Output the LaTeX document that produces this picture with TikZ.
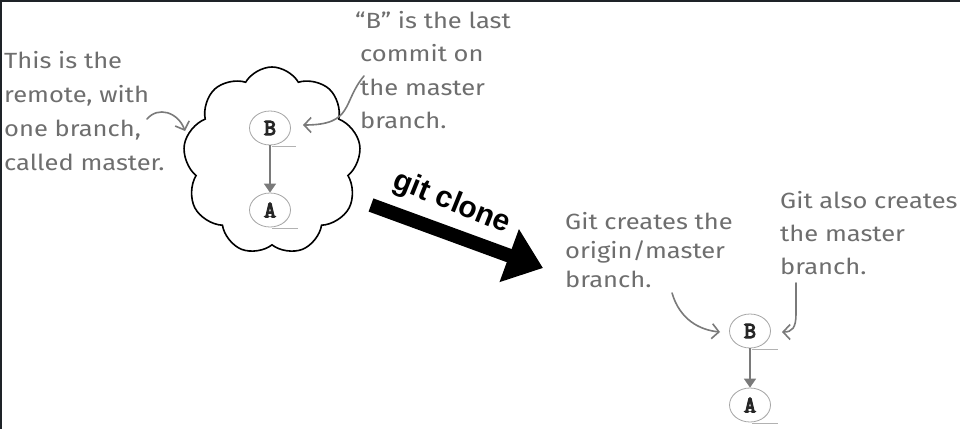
\documentclass[tikz,border=0pt]{standalone}
\usepackage{fontspec}
\usetikzlibrary{shapes.symbols,shapes.geometric,arrows.meta}
\newfontfamily\notefont{Fira Sans}[FakeStretch=1.16]
\newfontfamily\clonefont{Liberation Sans}
\newcommand\commitfont{\ttfamily\fontspec{Latin Modern Mono}[FakeBold=5]}
\definecolor{notegray}{HTML}{6E6E6E}
\definecolor{arrowgray}{HTML}{7A7A7A}
\definecolor{framedark}{HTML}{1E2328}
\pgfdeclareradialshading{commitball}{\pgfpoint{-12bp}{12bp}}{%
  color(0bp)=(white); color(30bp)=(white); color(52bp)=(gray!35); color(70bp)=(gray!60)}
\tikzset{
  note/.style={text=notegray, align=left, inner sep=0pt, anchor=base west},
  commit/.style={ellipse, draw=gray!70, line width=0.8pt, minimum width=41pt, minimum height=34pt,
    inner sep=0pt, shading=commitball, font=\commitfont\fontsize{23}{23}\selectfont, text=black!85},
  floor/.style={draw=gray!60, line width=0.8pt},
  parent/.style={draw=arrowgray, line width=1.6pt, -{Triangle[length=9pt,width=12pt]}},
  pointer/.style={draw=arrowgray, line width=1.6pt, line cap=round, -{Straight Barb[length=7pt,width=15pt]}},
}
\begin{document}
\begin{tikzpicture}[x=1pt,y=-1pt]
\useasboundingbox (0,0) rectangle (960,429);
\fill[white] (0,0) rectangle (960,429);
\fill[framedark] (0,0) rectangle (960,2);
\fill[framedark] (0,0) rectangle (2,429);

% remote cloud
\node[cloud, draw, line width=1.6pt, cloud puffs=9, cloud puff arc=120, aspect=1,
  minimum width=178pt, minimum height=188pt, inner sep=0pt] (remote) at (272,161) {};

\node[commit] (rB) at (270,128) {B};
\node[commit] (rA) at (270,210) {A};
\draw[floor] (rB.south) ++(2,1) -- ++(24,0);
\draw[floor] (rA.south) ++(2,1) -- ++(26,0);
\draw[parent] (rB) -- (rA);

% notes left
\node[note, font=\notefont\fontsize{22}{34}\selectfont] (remotenote) at (4,170)
  {This is the\\remote, with\\one branch,\\called master.};
\node[note, font=\notefont\fontsize{22}{33.5}\selectfont] (lastnote) at (355,128.5)
  {“B” is the last\\\hspace*{5pt}commit on\\\hspace*{5pt}the master\\\hspace*{5pt}branch.};

\coordinate (s1) at (147,119);
\draw[pointer] (s1) .. controls (158,106) and (178,112) .. (185,131);
\coordinate (s2) at (364,76);
\draw[pointer] (s2) .. controls (342,102) and (354,125) .. (303,125);

% git clone arrow
\coordinate (cloneTail) at (371,205);
\coordinate (cloneTip) at (543,268);
\draw[line width=14pt, -{Triangle[length=36pt,width=54pt]}] (cloneTail) -- (cloneTip);
\node[font=\clonefont\bfseries\fontsize{30}{30}\selectfont, rotate=-22, inner sep=0pt] (clonelabel) at (452,203) {git clone};

% local repo
\node[commit] (lB) at (750,331) {B};
\node[commit] (lA) at (750,405) {A};
\draw[floor] (lB.south) ++(2,1) -- ++(26,0);
\draw[floor] (lA.south) ++(2,1) -- ++(26,0);
\draw[parent] (lB) -- (lA);

\node[note, font=\notefont\fontsize{22}{29}\selectfont] (originnote) at (565,287)
  {Git creates the\\origin/master\\branch.};
\node[note, font=\notefont\fontsize{22}{33}\selectfont] (masternote) at (780,274)
  {Git also creates\\the master\\branch.};

\coordinate (s3) at (672,293);
\draw[pointer] (s3) .. controls (680,320) and (700,330) .. (720,332);
\coordinate (s4) at (796,283);
\draw[pointer] (s4) -- (796,314) .. controls (796,328) and (792,332) .. (782,332);
\end{tikzpicture}
\end{document}
